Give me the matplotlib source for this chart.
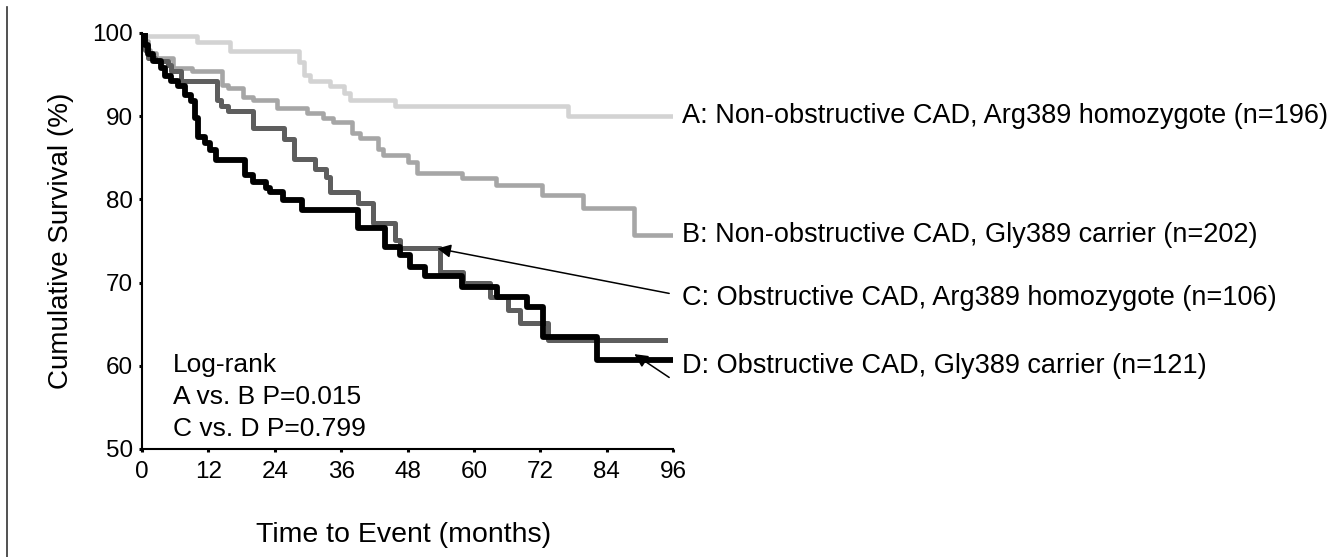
import numpy as np
import matplotlib
matplotlib.use("Agg")
import matplotlib.pyplot as plt
from matplotlib.lines import Line2D

plt.rcParams['font.family'] = ['Liberation Sans', 'DejaVu Sans']

# Kaplan-Meier step curves (months, % surviving)
a_months = [0, 0.3, 10, 16, 28.3, 29.3, 30.4, 34, 36.5, 37.6, 45.8, 77, 96]
a_surv = [100, 99.6, 98.9, 97.8, 96.5, 95.0, 94.2, 93.6, 92.8, 92.0, 91.2, 90.0, 90.0]

b_months = [0, 0.5, 1, 1.5, 2.5, 5.6, 9, 14.5, 15.6, 18.3, 20, 24.4, 29.8, 32.7,
            34.5, 38, 39.4, 42.7, 43.5, 48, 49.7, 57.9, 64, 72.3, 79.7, 89, 96]
b_surv = [100, 99, 98, 97.6, 97, 95.8, 95.4, 93.7, 93.4, 92.3, 92.0, 91.0, 90.4, 89.8,
          89.3, 88.0, 87.4, 86.0, 85.3, 84.5, 83.2, 82.6, 81.7, 80.5, 79.0, 75.7, 75.7]

c_months = [0, 0.5, 1, 2.4, 4.7, 5.2, 7, 13.6, 14.3, 15.6, 20, 25.7, 27.5, 31.3,
            33.2, 34, 39, 41.8, 45.7, 46.7, 53.9, 58, 62.9, 66.2, 68.4, 73.4, 94.6]
c_surv = [100, 98, 97, 96.6, 96.2, 95.4, 94.2, 92, 91.2, 90.6, 88.6, 87.2, 84.8, 83.7,
          82.7, 80.9, 79.6, 77.2, 75.1, 74.2, 71.3, 69.9, 68.3, 66.7, 65.1, 63.1, 63.1]

d_months = [0, 0.5, 1, 2, 3.4, 4.2, 5.2, 6.5, 7.8, 8.9, 9.5, 10.1, 11.4, 12.3, 13.4,
            18.6, 20, 22.4, 23.1, 25.5, 28.9, 39, 43.9, 46.7, 48.5, 51.2, 57.9, 64.2,
            69.6, 72.5, 82.3, 96]
d_surv = [100, 98.5, 97.5, 96.6, 95.8, 94.8, 94.2, 93.6, 92.5, 91.8, 89.8, 87.5, 86.8,
          85.9, 84.7, 82.9, 82.1, 81.4, 80.9, 79.9, 78.7, 76.6, 74.3, 73.3, 71.9, 70.8,
          69.5, 68.3, 67.1, 63.5, 60.7, 60.7]

labels = ["A: Non-obstructive CAD, Arg389 homozygote (n=196)",
          "B: Non-obstructive CAD, Gly389 carrier (n=202)",
          "C: Obstructive CAD, Arg389 homozygote (n=106)",
          "D: Obstructive CAD, Gly389 carrier (n=121)"]
label_y = [90.0, 75.7, 68.1, 60.0]

fig = plt.figure(figsize=(13.37, 5.57), dpi=100, facecolor='w')
ax = fig.add_axes([0.1062, 0.1939, 0.3972, 0.7469])

ax.step(a_months, a_surv, where='post', color='#d3d3d3', lw=3.3)
ax.step(b_months, b_surv, where='post', color='#a6a6a6', lw=3.3)
ax.step(c_months, c_surv, where='post', color='#5e5e5e', lw=3.6)
ax.step(d_months, d_surv, where='post', color='black', lw=4.2)

ax.set_xlim(0, 96)
ax.set_ylim(50, 100)
ax.set_xticks(np.arange(0, 97, 12))
ax.set_yticks(np.arange(50, 101, 10))
ax.tick_params(labelsize=17.5, length=2.5, width=2.2)
ax.tick_params(axis='y', pad=4)
ax.tick_params(axis='x', pad=6)
for s in ['top', 'right']:
    ax.spines[s].set_visible(False)
for s in ['left', 'bottom']:
    ax.spines[s].set_linewidth(1.5)

ax.set_xlabel('Time to Event (months)', fontsize=20.5, va='center')
ax.xaxis.set_label_coords(0.493, -0.207)
ax.set_ylabel('Cumulative Survival (%)', fontsize=20, va='center')
ax.yaxis.set_label_coords(-0.152, 0.5)

# log-rank note
ax.text(5.6, 59.25, 'Log-rank', fontsize=19, va='baseline')
ax.text(5.6, 55.4, 'A vs. B P=0.015', fontsize=19, va='baseline')
ax.text(5.6, 51.6, 'C vs. D P=0.799', fontsize=19, va='baseline')

# group labels to the right
for lab, y in zip(labels, label_y):
    ax.text(97.6, y, lab, fontsize=19.5, va='center', clip_on=False)

# arrows to C and D
ax.annotate('', xy=(53.4, 74.1), xytext=(95.3, 68.7),
            arrowprops=dict(arrowstyle='-|>', color='black', lw=1.1,
                            mutation_scale=20, shrinkA=0, shrinkB=0),
            annotation_clip=False)
ax.annotate('', xy=(89.0, 61.4), xytext=(95.3, 58.6),
            arrowprops=dict(arrowstyle='-|>', color='black', lw=1.1,
                            mutation_scale=20, shrinkA=0, shrinkB=0),
            annotation_clip=False)

# border line down the left side
fig.add_artist(Line2D([0.005, 0.005], [0.0, 0.987], color='#333333', lw=1.2))

plt.savefig('out.png', dpi=100)
